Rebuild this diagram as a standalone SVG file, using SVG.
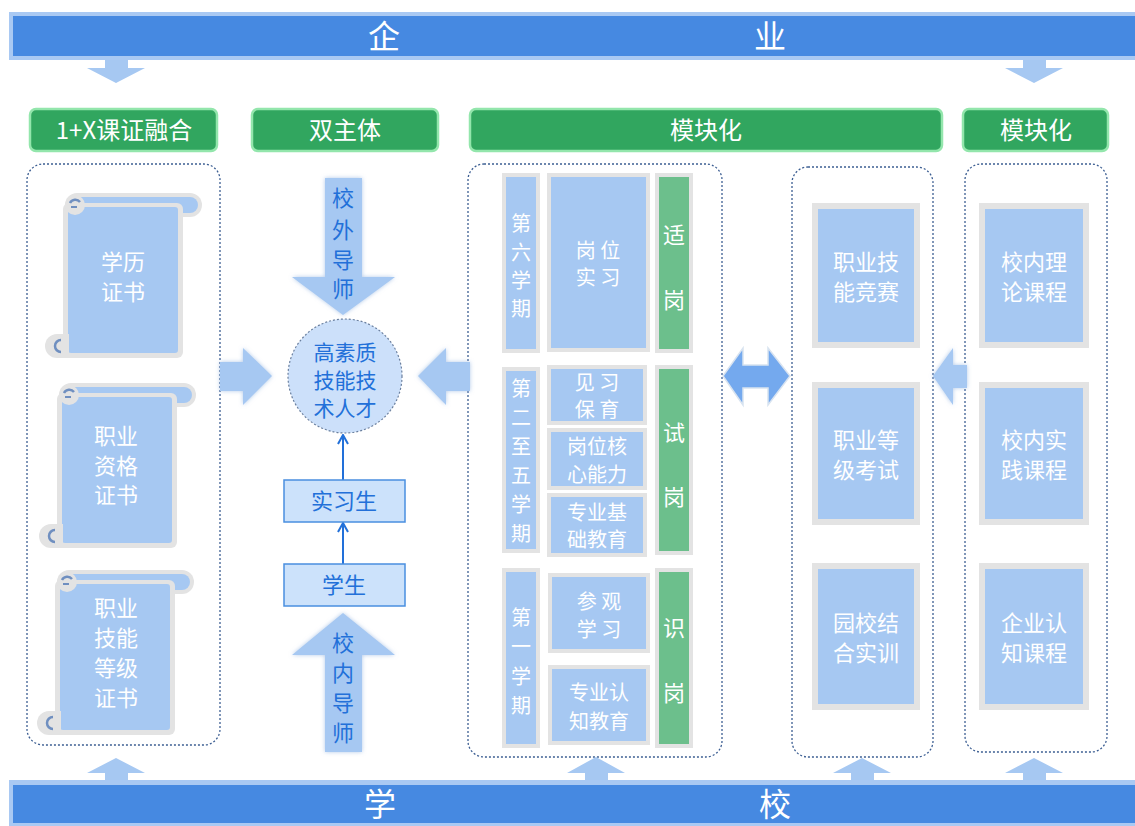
<svg xmlns="http://www.w3.org/2000/svg" width="1135" height="826" viewBox="0 0 1135 826">
<defs>
<style>
text{font-family:"Noto Sans CJK SC","Noto Sans",sans-serif;}
.ban-o{fill:#A9C9F3;}
.ban-i{fill:#4689E1;}
.ban-t{fill:#fff;font-size:32px;text-anchor:middle;}
.hdr{fill:#31A65F;stroke:#93E6AC;stroke-width:2.5;}
.hdr-t{fill:#fff;font-size:24px;text-anchor:middle;}
.cont{fill:none;stroke:#3D5F93;stroke-width:1.3;stroke-dasharray:2 2;}
.arr{fill:#A6C8F2;}
.arr2{fill:#74A9EE;stroke:#D8E3F0;stroke-width:1.5;}
.bb{fill:#A6C8F2;stroke:#E3E3E3;stroke-width:4;}
.rb{fill:#A6C8F2;stroke:#E3E3E3;stroke-width:6;}
.gc{fill:#6CBF8C;stroke:#E3E3E3;stroke-width:4;}
.wt{fill:#fff;font-size:20px;text-anchor:middle;}
.wt2{fill:#fff;font-size:22px;text-anchor:middle;}
.bt{fill:#2270D9;font-size:22px;text-anchor:middle;}
.ct{fill:#2270D9;font-size:21px;text-anchor:middle;}
.sbox{fill:#CCE2FB;stroke:#4A8FE0;stroke-width:1.5;}
.gray{fill:#E3E3E3;}
.curl{fill:none;stroke:#6F8FC0;stroke-width:2.5;}
.ln{stroke:#2270D9;stroke-width:2;fill:none;}
</style>
<marker id="ah" viewBox="0 0 12 12" refX="11" refY="6" markerWidth="12" markerHeight="12" markerUnits="userSpaceOnUse" orient="auto">
<path d="M2,1 L11,6 L2,11" fill="none" stroke="#2270D9" stroke-width="2"/>
</marker>
<filter id="sh" x="-20%" y="-20%" width="140%" height="140%">
<feDropShadow dx="0" dy="0" stdDeviation="2" flood-color="#7FA6DA" flood-opacity="0.6"/>
</filter>
<g id="scroll">
<rect class="gray" x="2" y="0" width="137" height="24" rx="12"/>
<rect x="8" y="4" width="127" height="16" rx="8" fill="#A6C8F2"/>
<rect class="gray" x="0" y="10" width="120" height="155" rx="6"/>
<rect x="5" y="14" width="110" height="146" rx="3" fill="#A6C8F2"/>
<circle class="gray" cx="12" cy="12" r="10"/>
<path class="curl" d="M17,9 A6,6 0 0 0 7,10"/>
<path d="M8,14 L14,14" stroke="#6F8FC0" stroke-width="2"/>
<circle class="gray" cx="-6" cy="153" r="12"/>
<rect class="gray" x="-6" y="141" width="12" height="24"/>
<path class="curl" d="M-2,147 A6,6 0 1 0 -2,159"/>
</g>
</defs>

<g id="banner-top">
<rect class="ban-o" x="9" y="12" width="1126" height="48"/>
<rect class="ban-i" x="13" y="16" width="1122" height="40"/>
<text class="ban-t" x="384" y="48">企</text>
<text class="ban-t" x="770" y="48">业</text>
</g>

<g id="banner-bottom">
<rect class="ban-o" x="9" y="780" width="1126" height="46"/>
<rect class="ban-i" x="13" y="785" width="1122" height="38"/>
<text class="ban-t" x="380" y="816">学</text>
<text class="ban-t" x="775" y="816">校</text>
</g>

<g id="headers">
<g id="h1"><rect class="hdr" x="30" y="109" width="187" height="42" rx="6"/><text class="hdr-t" x="124" y="139">1+X课证融合</text></g>
<g id="h2"><rect class="hdr" x="252" y="109" width="186" height="42" rx="6"/><text class="hdr-t" x="345" y="139">双主体</text></g>
<g id="h3"><rect class="hdr" x="470" y="109" width="472" height="42" rx="6"/><text class="hdr-t" x="706" y="139">模块化</text></g>
<g id="h4"><rect class="hdr" x="963" y="109" width="145" height="42" rx="6"/><text class="hdr-t" x="1036" y="139">模块化</text></g>
</g>

<g id="containers">
<rect class="cont" x="27" y="164" width="193" height="581" rx="16"/>
<rect class="cont" x="468" y="164" width="254" height="593" rx="16"/>
<rect class="cont" x="792" y="167" width="141" height="590" rx="16"/>
<rect class="cont" x="965" y="164" width="142" height="588" rx="16"/>
</g>

<g id="connectors">
<polygon class="arr" points="105,60 128,60 128,68 145,68 116,83 87,68 105,68"/>
<polygon class="arr" points="1023,60 1046,60 1046,68 1063,68 1034,83 1005,68 1023,68"/>
<polygon class="arr" points="105,780 128,780 128,773 145,773 116,758 87,773 105,773"/>
<polygon class="arr" points="585,780 608,780 608,773 625,773 596,757 567,773 585,773"/>
<polygon class="arr" points="851,780 874,780 874,773 891,773 862,758 833,773 851,773"/>
<polygon class="arr" points="1023,780 1046,780 1046,773 1063,773 1034,758 1005,773 1023,773"/>
<polygon class="arr" filter="url(#sh)" points="220,362 243,362 243,348 272,376 243,405 243,391 220,391"/>
<polygon class="arr" filter="url(#sh)" points="470,362 446,362 446,348 418,376 446,405 446,391 470,391"/>
<polygon class="arr2" points="723,376 743,348 743,365 768,365 768,348 790,376 768,405 768,388 743,388 743,405"/>
<polygon class="arr" filter="url(#sh)" points="967,365 953,365 953,348 933,376 953,405 953,388 967,388"/>
<polygon class="arr" filter="url(#sh)" points="325,178 362,178 362,277 395,277 343,315 292,277 325,277"/>
<polygon class="arr" filter="url(#sh)" points="325,752 362,752 362,655 395,655 343,613 292,655 325,655"/>
<line class="ln" x1="343" y1="480" x2="343" y2="435" marker-end="url(#ah)"/>
<line class="ln" x1="343" y1="564" x2="343" y2="523" marker-end="url(#ah)"/>
</g>

<g id="mentor-out">
<text class="bt"><tspan x="343" y="206">校</tspan><tspan x="343" y="238">外</tspan><tspan x="343" y="268">导</tspan><tspan x="343" y="297">师</tspan></text>
</g>
<g id="mentor-in">
<text class="bt"><tspan x="343" y="651">校</tspan><tspan x="343" y="681">内</tspan><tspan x="343" y="711">导</tspan><tspan x="343" y="741">师</tspan></text>
</g>

<g id="talent">
<circle cx="345" cy="376" r="57" fill="#CCE0FA" stroke="#6A7F9E" stroke-width="1.2" stroke-dasharray="2 2"/>
<text class="ct"><tspan x="345" y="360">高素质</tspan><tspan x="345" y="388">技能技</tspan><tspan x="345" y="416">术人才</tspan></text>
</g>
<g id="intern">
<rect class="sbox" x="284" y="480" width="121" height="42"/>
<text class="bt" x="344" y="509">实习生</text>
</g>
<g id="student">
<rect class="sbox" x="284" y="564" width="121" height="42"/>
<text class="bt" x="344" y="593">学生</text>
</g>

<g id="cert1" transform="translate(63,193)">
<use href="#scroll"/>
<text class="wt2"><tspan x="60" y="77">学历</tspan><tspan x="60" y="107">证书</tspan></text>
</g>
<g id="cert2" transform="translate(57,383)">
<use href="#scroll"/>
<text class="wt2"><tspan x="59" y="61">职业</tspan><tspan x="59" y="91">资格</tspan><tspan x="59" y="120">证书</tspan></text>
</g>
<g id="cert3" transform="translate(55,570)">
<use href="#scroll"/>
<text class="wt2"><tspan x="61" y="46">职业</tspan><tspan x="61" y="76">技能</tspan><tspan x="61" y="106">等级</tspan><tspan x="61" y="136">证书</tspan></text>
</g>

<g id="sem6">
<rect class="bb" x="504" y="175" width="34" height="176"/>
<text class="wt"><tspan x="521" y="231">第</tspan><tspan x="521" y="260">六</tspan><tspan x="521" y="288">学</tspan><tspan x="521" y="316">期</tspan></text>
</g>
<g id="internship">
<rect class="bb" x="549" y="175" width="99" height="175"/>
<text class="wt"><tspan x="598" y="258">岗 位</tspan><tspan x="598" y="285">实 习</tspan></text>
</g>
<g id="fit">
<rect class="gc" x="657" y="175" width="34" height="176"/>
<text class="wt2"><tspan x="674" y="243">适</tspan><tspan x="674" y="308">岗</tspan></text>
</g>

<g id="sem2-5">
<rect class="bb" x="504" y="369" width="34" height="182"/>
<text class="wt"><tspan x="521" y="396">第</tspan><tspan x="521" y="425">二</tspan><tspan x="521" y="454">至</tspan><tspan x="521" y="483">五</tspan><tspan x="521" y="512">学</tspan><tspan x="521" y="541">期</tspan></text>
</g>
<g id="practice">
<rect class="bb" x="549" y="367" width="96" height="56"/>
<text class="wt"><tspan x="597" y="390">见 习</tspan><tspan x="597" y="417">保 育</tspan></text>
</g>
<g id="core">
<rect class="bb" x="549" y="430" width="96" height="58"/>
<text class="wt"><tspan x="597" y="454">岗位核</tspan><tspan x="597" y="482">心能力</tspan></text>
</g>
<g id="basic">
<rect class="bb" x="549" y="495" width="96" height="60"/>
<text class="wt"><tspan x="597" y="520">专业基</tspan><tspan x="597" y="547">础教育</tspan></text>
</g>
<g id="try">
<rect class="gc" x="657" y="367" width="34" height="186"/>
<text class="wt2"><tspan x="674" y="441">试</tspan><tspan x="674" y="505">岗</tspan></text>
</g>

<g id="sem1">
<rect class="bb" x="504" y="570" width="34" height="176"/>
<text class="wt"><tspan x="521" y="625">第</tspan><tspan x="521" y="654">一</tspan><tspan x="521" y="684">学</tspan><tspan x="521" y="713">期</tspan></text>
</g>
<g id="visit">
<rect class="bb" x="550" y="575" width="98" height="76"/>
<text class="wt"><tspan x="599" y="609">参 观</tspan><tspan x="599" y="637">学 习</tspan></text>
</g>
<g id="cognition">
<rect class="bb" x="550" y="667" width="98" height="76"/>
<text class="wt"><tspan x="599" y="700">专业认</tspan><tspan x="599" y="729">知教育</tspan></text>
</g>
<g id="know">
<rect class="gc" x="657" y="570" width="34" height="176"/>
<text class="wt2"><tspan x="674" y="636">识</tspan><tspan x="674" y="701">岗</tspan></text>
</g>

<g id="contest">
<rect class="rb" x="815" y="206" width="102" height="139"/>
<text class="wt2"><tspan x="866" y="270">职业技</tspan><tspan x="866" y="300">能竞赛</tspan></text>
</g>
<g id="exam">
<rect class="rb" x="815" y="385" width="102" height="137"/>
<text class="wt2"><tspan x="866" y="448">职业等</tspan><tspan x="866" y="478">级考试</tspan></text>
</g>
<g id="training">
<rect class="rb" x="815" y="566" width="102" height="141"/>
<text class="wt2"><tspan x="866" y="631">园校结</tspan><tspan x="866" y="661">合实训</tspan></text>
</g>

<g id="theory">
<rect class="rb" x="982" y="206" width="104" height="139"/>
<text class="wt2"><tspan x="1034" y="270">校内理</tspan><tspan x="1034" y="300">论课程</tspan></text>
</g>
<g id="practical">
<rect class="rb" x="982" y="385" width="104" height="137"/>
<text class="wt2"><tspan x="1034" y="448">校内实</tspan><tspan x="1034" y="478">践课程</tspan></text>
</g>
<g id="enterprise">
<rect class="rb" x="982" y="566" width="104" height="141"/>
<text class="wt2"><tspan x="1034" y="631">企业认</tspan><tspan x="1034" y="661">知课程</tspan></text>
</g>
</svg>
